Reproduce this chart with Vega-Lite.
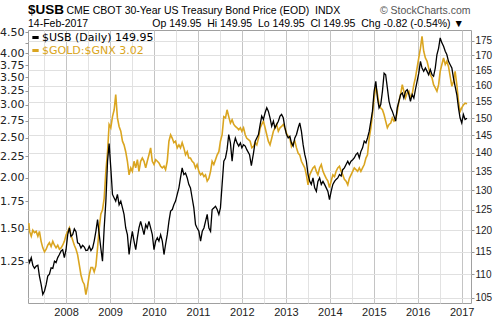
{
  "$schema": "https://vega.github.io/schema/vega-lite/v6.json",
  "width": 443,
  "height": 273,
  "autosize": {"type": "none"},
  "padding": {"left": 28, "top": 30, "right": 23, "bottom": 19},
  "background": "white",
  "config": {"view": {"stroke": "#a0a0a0", "strokeWidth": 1}, "font": "Liberation Sans"},
  "title": {
    "text": "$USB",
    "subtitle": "14-Feb-2017\u00a0\u00a0\u00a0\u00a0\u00a0\u00a0\u00a0\u00a0\u00a0\u00a0\u00a0\u00a0\u00a0\u00a0\u00a0\u00a0\u00a0\u00a0\u00a0\u00a0\u00a0\u00a0Op 149.95\u00a0\u00a0Hi 149.95\u00a0\u00a0Lo 149.95\u00a0\u00a0Cl 149.95\u00a0\u00a0Chg -0.82 (-0.54%) ▼",
    "anchor": "start",
    "frame": "group",
    "font": "Liberation Sans",
    "fontSize": 13.5,
    "fontWeight": "bold",
    "color": "#000000",
    "subtitleFont": "Liberation Sans",
    "subtitleFontSize": 10.5,
    "subtitleColor": "#000000",
    "subtitlePadding": 2,
    "offset": -24
  },
  "datasets": {
    "usb": [
      {"date": "2007-02-26", "price": 113.3}, {"date": "2007-03-04", "price": 112.6}, {"date": "2007-03-18", "price": 113.7}, {"date": "2007-03-31", "price": 112.0},
      {"date": "2007-04-14", "price": 111.3}, {"date": "2007-04-28", "price": 111.8}, {"date": "2007-05-12", "price": 112.0}, {"date": "2007-05-25", "price": 109.6},
      {"date": "2007-06-08", "price": 107.8}, {"date": "2007-06-22", "price": 105.7}, {"date": "2007-07-06", "price": 106.4}, {"date": "2007-07-20", "price": 107.8},
      {"date": "2007-08-02", "price": 109.6}, {"date": "2007-08-16", "price": 110.0}, {"date": "2007-08-30", "price": 111.4}, {"date": "2007-09-13", "price": 111.3},
      {"date": "2007-09-27", "price": 112.9}, {"date": "2007-10-10", "price": 112.6}, {"date": "2007-10-24", "price": 113.7}, {"date": "2007-11-07", "price": 114.4},
      {"date": "2007-11-21", "price": 115.2}, {"date": "2007-12-04", "price": 115.5}, {"date": "2007-12-18", "price": 113.7}, {"date": "2008-01-01", "price": 115.5},
      {"date": "2008-01-15", "price": 119.0}, {"date": "2008-01-29", "price": 120.6}, {"date": "2008-02-11", "price": 118.6}, {"date": "2008-02-25", "price": 119.0},
      {"date": "2008-03-10", "price": 120.4}, {"date": "2008-03-24", "price": 119.7}, {"date": "2008-04-06", "price": 117.1}, {"date": "2008-04-20", "price": 116.9},
      {"date": "2008-05-04", "price": 115.9}, {"date": "2008-05-18", "price": 116.5}, {"date": "2008-06-01", "price": 116.1}, {"date": "2008-06-14", "price": 115.3},
      {"date": "2008-06-28", "price": 115.4}, {"date": "2008-07-12", "price": 116.3}, {"date": "2008-07-26", "price": 115.3}, {"date": "2008-08-09", "price": 115.9},
      {"date": "2008-08-22", "price": 117.5}, {"date": "2008-09-05", "price": 119.8}, {"date": "2008-09-19", "price": 122.6}, {"date": "2008-10-03", "price": 119.0},
      {"date": "2008-10-16", "price": 115.9}, {"date": "2008-10-30", "price": 112.9}, {"date": "2008-11-13", "price": 120.6}, {"date": "2008-11-27", "price": 127.2},
      {"date": "2008-12-11", "price": 137.7}, {"date": "2008-12-24", "price": 142.6}, {"date": "2009-01-07", "price": 135.9}, {"date": "2009-01-21", "price": 128.9},
      {"date": "2009-02-04", "price": 128.0}, {"date": "2009-02-17", "price": 127.2}, {"date": "2009-03-03", "price": 128.9}, {"date": "2009-03-17", "price": 126.3},
      {"date": "2009-03-31", "price": 127.2}, {"date": "2009-04-14", "price": 125.5}, {"date": "2009-04-27", "price": 123.9}, {"date": "2009-05-11", "price": 120.6},
      {"date": "2009-05-25", "price": 119.0}, {"date": "2009-06-08", "price": 114.4}, {"date": "2009-06-22", "price": 117.5}, {"date": "2009-07-05", "price": 119.8},
      {"date": "2009-07-19", "price": 117.5}, {"date": "2009-08-02", "price": 115.5}, {"date": "2009-08-16", "price": 118.3}, {"date": "2009-08-29", "price": 120.6},
      {"date": "2009-09-12", "price": 122.2}, {"date": "2009-09-26", "price": 120.6}, {"date": "2009-10-10", "price": 119.0}, {"date": "2009-10-24", "price": 121.4},
      {"date": "2009-11-06", "price": 120.6}, {"date": "2009-11-20", "price": 122.2}, {"date": "2009-12-04", "price": 120.6}, {"date": "2009-12-18", "price": 119.0},
      {"date": "2010-01-01", "price": 115.5}, {"date": "2010-01-15", "price": 117.5}, {"date": "2010-01-29", "price": 118.3}, {"date": "2010-02-11", "price": 117.5},
      {"date": "2010-02-25", "price": 119.0}, {"date": "2010-03-11", "price": 117.5}, {"date": "2010-03-25", "price": 114.4}, {"date": "2010-04-07", "price": 116.7},
      {"date": "2010-04-21", "price": 119.0}, {"date": "2010-05-05", "price": 122.2}, {"date": "2010-05-19", "price": 124.7}, {"date": "2010-06-02", "price": 125.1},
      {"date": "2010-06-15", "price": 126.3}, {"date": "2010-06-29", "price": 127.2}, {"date": "2010-07-13", "price": 128.9}, {"date": "2010-07-27", "price": 130.6},
      {"date": "2010-08-09", "price": 133.2}, {"date": "2010-08-23", "price": 135.9}, {"date": "2010-09-06", "price": 134.1}, {"date": "2010-09-20", "price": 134.5},
      {"date": "2010-10-04", "price": 133.2}, {"date": "2010-10-17", "price": 131.5}, {"date": "2010-10-31", "price": 130.6}, {"date": "2010-11-14", "price": 128.0},
      {"date": "2010-11-28", "price": 125.5}, {"date": "2010-12-12", "price": 121.4}, {"date": "2010-12-25", "price": 120.6}, {"date": "2011-01-09", "price": 119.8},
      {"date": "2011-01-23", "price": 117.5}, {"date": "2011-02-06", "price": 119.8}, {"date": "2011-02-20", "price": 120.6}, {"date": "2011-03-05", "price": 122.2},
      {"date": "2011-03-19", "price": 123.9}, {"date": "2011-04-02", "price": 120.6}, {"date": "2011-04-16", "price": 119.8}, {"date": "2011-04-29", "price": 125.1},
      {"date": "2011-05-13", "price": 125.5}, {"date": "2011-05-27", "price": 125.9}, {"date": "2011-06-10", "price": 125.1}, {"date": "2011-06-24", "price": 123.9},
      {"date": "2011-07-07", "price": 125.5}, {"date": "2011-07-21", "price": 131.5}, {"date": "2011-08-04", "price": 137.7}, {"date": "2011-08-18", "price": 138.6},
      {"date": "2011-08-31", "price": 140.9}, {"date": "2011-09-14", "price": 145.2}, {"date": "2011-09-28", "price": 142.8}, {"date": "2011-10-12", "price": 137.7},
      {"date": "2011-10-26", "price": 142.3}, {"date": "2011-11-08", "price": 144.2}, {"date": "2011-11-22", "price": 142.8}, {"date": "2011-12-06", "price": 141.9},
      {"date": "2011-12-20", "price": 142.8}, {"date": "2012-01-01", "price": 141.4}, {"date": "2012-01-15", "price": 142.3}, {"date": "2012-01-29", "price": 141.9},
      {"date": "2012-02-11", "price": 140.9}, {"date": "2012-03-05", "price": 139.5}, {"date": "2012-03-20", "price": 136.5}, {"date": "2012-04-07", "price": 140.0},
      {"date": "2012-04-21", "price": 143.3}, {"date": "2012-05-04", "price": 144.2}, {"date": "2012-05-18", "price": 145.2}, {"date": "2012-06-01", "price": 148.1},
      {"date": "2012-06-14", "price": 150.6}, {"date": "2012-06-28", "price": 149.6}, {"date": "2012-07-12", "price": 151.6}, {"date": "2012-07-26", "price": 153.1},
      {"date": "2012-08-08", "price": 152.1}, {"date": "2012-08-22", "price": 150.1}, {"date": "2012-09-05", "price": 147.6}, {"date": "2012-09-19", "price": 149.1},
      {"date": "2012-10-02", "price": 147.1}, {"date": "2012-10-16", "price": 148.1}, {"date": "2012-10-30", "price": 149.1}, {"date": "2012-11-13", "price": 150.6},
      {"date": "2012-11-26", "price": 151.1}, {"date": "2012-12-10", "price": 150.1}, {"date": "2012-12-24", "price": 147.1}, {"date": "2013-01-06", "price": 145.2},
      {"date": "2013-01-20", "price": 144.2}, {"date": "2013-02-03", "price": 144.7}, {"date": "2013-02-16", "price": 142.8}, {"date": "2013-03-02", "price": 141.9},
      {"date": "2013-03-16", "price": 144.2}, {"date": "2013-03-30", "price": 145.2}, {"date": "2013-04-13", "price": 147.1}, {"date": "2013-04-26", "price": 148.6},
      {"date": "2013-05-10", "price": 146.1}, {"date": "2013-05-24", "price": 142.3}, {"date": "2013-06-07", "price": 139.5}, {"date": "2013-06-20", "price": 137.7},
      {"date": "2013-07-04", "price": 134.1}, {"date": "2013-07-18", "price": 132.3}, {"date": "2013-07-31", "price": 131.5}, {"date": "2013-08-14", "price": 133.2},
      {"date": "2013-08-28", "price": 130.6}, {"date": "2013-09-11", "price": 129.7}, {"date": "2013-09-24", "price": 132.3}, {"date": "2013-10-08", "price": 133.2},
      {"date": "2013-10-22", "price": 131.5}, {"date": "2013-11-05", "price": 132.3}, {"date": "2013-11-18", "price": 131.5}, {"date": "2013-12-02", "price": 130.6},
      {"date": "2013-12-16", "price": 129.7}, {"date": "2013-12-29", "price": 127.6}, {"date": "2014-01-12", "price": 129.7}, {"date": "2014-01-26", "price": 131.5},
      {"date": "2014-02-09", "price": 132.3}, {"date": "2014-02-22", "price": 132.8}, {"date": "2014-03-08", "price": 133.2}, {"date": "2014-03-22", "price": 134.1},
      {"date": "2014-04-05", "price": 133.7}, {"date": "2014-04-18", "price": 135.4}, {"date": "2014-05-02", "price": 135.9}, {"date": "2014-05-16", "price": 136.8},
      {"date": "2014-05-30", "price": 137.7}, {"date": "2014-06-12", "price": 136.8}, {"date": "2014-06-26", "price": 137.7}, {"date": "2014-07-10", "price": 138.1},
      {"date": "2014-07-23", "price": 138.6}, {"date": "2014-08-06", "price": 139.5}, {"date": "2014-08-20", "price": 140.0}, {"date": "2014-09-03", "price": 138.6},
      {"date": "2014-09-16", "price": 140.4}, {"date": "2014-09-30", "price": 141.4}, {"date": "2014-10-14", "price": 143.3}, {"date": "2014-10-28", "price": 142.8},
      {"date": "2014-11-10", "price": 144.2}, {"date": "2014-11-24", "price": 146.1}, {"date": "2014-12-08", "price": 149.1}, {"date": "2014-12-21", "price": 152.1},
      {"date": "2015-01-04", "price": 158.2}, {"date": "2015-01-18", "price": 161.4}, {"date": "2015-02-01", "price": 156.1}, {"date": "2015-02-14", "price": 153.1},
      {"date": "2015-02-28", "price": 154.1}, {"date": "2015-03-14", "price": 158.2}, {"date": "2015-03-28", "price": 164.0}, {"date": "2015-04-10", "price": 163.5},
      {"date": "2015-04-24", "price": 159.3}, {"date": "2015-05-08", "price": 155.1}, {"date": "2015-05-22", "price": 153.1}, {"date": "2015-06-04", "price": 152.1},
      {"date": "2015-06-18", "price": 150.6}, {"date": "2015-07-02", "price": 149.1}, {"date": "2015-07-15", "price": 153.1}, {"date": "2015-07-29", "price": 155.1},
      {"date": "2015-08-12", "price": 157.2}, {"date": "2015-08-26", "price": 157.7}, {"date": "2015-09-08", "price": 156.1}, {"date": "2015-09-22", "price": 158.2},
      {"date": "2015-10-06", "price": 158.7}, {"date": "2015-10-20", "price": 157.2}, {"date": "2015-11-02", "price": 155.1}, {"date": "2015-11-16", "price": 157.2},
      {"date": "2015-11-30", "price": 156.1}, {"date": "2015-12-13", "price": 158.7}, {"date": "2015-12-27", "price": 161.4}, {"date": "2016-01-10", "price": 164.0},
      {"date": "2016-01-24", "price": 167.9}, {"date": "2016-02-06", "price": 165.7}, {"date": "2016-02-20", "price": 164.6}, {"date": "2016-03-05", "price": 165.7},
      {"date": "2016-03-19", "price": 164.6}, {"date": "2016-04-01", "price": 163.5}, {"date": "2016-04-15", "price": 165.2}, {"date": "2016-04-29", "price": 163.5},
      {"date": "2016-05-12", "price": 163.0}, {"date": "2016-05-26", "price": 165.7}, {"date": "2016-06-09", "price": 170.2}, {"date": "2016-06-23", "price": 172.4},
      {"date": "2016-07-06", "price": 175.9}, {"date": "2016-07-20", "price": 174.2}, {"date": "2016-08-03", "price": 173.0}, {"date": "2016-08-17", "price": 171.3},
      {"date": "2016-08-30", "price": 170.2}, {"date": "2016-09-13", "price": 167.9}, {"date": "2016-09-27", "price": 166.8}, {"date": "2016-10-11", "price": 165.7},
      {"date": "2016-10-24", "price": 162.5}, {"date": "2016-11-07", "price": 159.8}, {"date": "2016-11-21", "price": 157.2}, {"date": "2016-12-05", "price": 153.1},
      {"date": "2016-12-18", "price": 150.1}, {"date": "2017-01-01", "price": 148.6}, {"date": "2017-01-15", "price": 151.1}, {"date": "2017-01-29", "price": 149.6},
      {"date": "2017-02-14", "price": 149.95}
    ],
    "gold": [
      {"date": "2007-02-26", "price": 1.55}, {"date": "2007-03-04", "price": 1.48}, {"date": "2007-03-18", "price": 1.44}, {"date": "2007-03-31", "price": 1.49},
      {"date": "2007-04-14", "price": 1.47}, {"date": "2007-04-28", "price": 1.48}, {"date": "2007-05-12", "price": 1.44}, {"date": "2007-05-25", "price": 1.48},
      {"date": "2007-06-08", "price": 1.40}, {"date": "2007-06-22", "price": 1.35}, {"date": "2007-07-06", "price": 1.32}, {"date": "2007-07-20", "price": 1.34},
      {"date": "2007-08-02", "price": 1.37}, {"date": "2007-08-16", "price": 1.39}, {"date": "2007-08-30", "price": 1.36}, {"date": "2007-09-13", "price": 1.40},
      {"date": "2007-09-27", "price": 1.37}, {"date": "2007-10-10", "price": 1.35}, {"date": "2007-10-24", "price": 1.37}, {"date": "2007-11-07", "price": 1.34},
      {"date": "2007-11-21", "price": 1.35}, {"date": "2007-12-04", "price": 1.37}, {"date": "2007-12-18", "price": 1.40}, {"date": "2008-01-01", "price": 1.45},
      {"date": "2008-01-15", "price": 1.48}, {"date": "2008-01-29", "price": 1.51}, {"date": "2008-02-11", "price": 1.45}, {"date": "2008-02-25", "price": 1.41},
      {"date": "2008-03-10", "price": 1.37}, {"date": "2008-03-24", "price": 1.34}, {"date": "2008-04-06", "price": 1.30}, {"date": "2008-04-20", "price": 1.23},
      {"date": "2008-05-04", "price": 1.16}, {"date": "2008-05-18", "price": 1.12}, {"date": "2008-06-01", "price": 1.10}, {"date": "2008-06-14", "price": 1.04},
      {"date": "2008-06-28", "price": 1.09}, {"date": "2008-07-12", "price": 1.16}, {"date": "2008-07-26", "price": 1.21}, {"date": "2008-08-09", "price": 1.21},
      {"date": "2008-08-22", "price": 1.18}, {"date": "2008-09-05", "price": 1.22}, {"date": "2008-09-19", "price": 1.35}, {"date": "2008-10-03", "price": 1.51},
      {"date": "2008-10-16", "price": 1.63}, {"date": "2008-10-30", "price": 1.67}, {"date": "2008-11-13", "price": 1.78}, {"date": "2008-11-27", "price": 2.07},
      {"date": "2008-12-11", "price": 2.31}, {"date": "2008-12-24", "price": 2.69}, {"date": "2009-01-07", "price": 2.64}, {"date": "2009-01-21", "price": 2.81},
      {"date": "2009-02-04", "price": 2.92}, {"date": "2009-02-17", "price": 3.18}, {"date": "2009-03-03", "price": 2.79}, {"date": "2009-03-17", "price": 2.66},
      {"date": "2009-03-31", "price": 2.59}, {"date": "2009-04-14", "price": 2.45}, {"date": "2009-04-27", "price": 2.40}, {"date": "2009-05-11", "price": 2.31},
      {"date": "2009-05-25", "price": 2.19}, {"date": "2009-06-08", "price": 2.03}, {"date": "2009-06-22", "price": 2.11}, {"date": "2009-07-05", "price": 2.07},
      {"date": "2009-07-19", "price": 2.19}, {"date": "2009-08-02", "price": 2.11}, {"date": "2009-08-16", "price": 2.21}, {"date": "2009-08-29", "price": 2.07},
      {"date": "2009-09-12", "price": 2.19}, {"date": "2009-09-26", "price": 2.23}, {"date": "2009-10-10", "price": 2.19}, {"date": "2009-10-24", "price": 2.11},
      {"date": "2009-11-06", "price": 2.19}, {"date": "2009-11-20", "price": 2.27}, {"date": "2009-12-04", "price": 2.36}, {"date": "2009-12-18", "price": 2.19},
      {"date": "2010-01-01", "price": 2.15}, {"date": "2010-01-15", "price": 2.21}, {"date": "2010-01-29", "price": 2.19}, {"date": "2010-02-11", "price": 2.17},
      {"date": "2010-02-25", "price": 2.13}, {"date": "2010-03-11", "price": 2.11}, {"date": "2010-03-25", "price": 2.13}, {"date": "2010-04-07", "price": 2.09},
      {"date": "2010-04-21", "price": 2.19}, {"date": "2010-05-05", "price": 2.45}, {"date": "2010-05-19", "price": 2.54}, {"date": "2010-06-02", "price": 2.49},
      {"date": "2010-06-15", "price": 2.43}, {"date": "2010-06-29", "price": 2.45}, {"date": "2010-07-13", "price": 2.36}, {"date": "2010-07-27", "price": 2.40},
      {"date": "2010-08-09", "price": 2.36}, {"date": "2010-08-23", "price": 2.43}, {"date": "2010-09-06", "price": 2.36}, {"date": "2010-09-20", "price": 2.27},
      {"date": "2010-10-04", "price": 2.31}, {"date": "2010-10-17", "price": 2.23}, {"date": "2010-10-31", "price": 2.23}, {"date": "2010-11-14", "price": 2.19},
      {"date": "2010-11-28", "price": 2.17}, {"date": "2010-12-12", "price": 2.11}, {"date": "2010-12-25", "price": 2.15}, {"date": "2011-01-09", "price": 2.07},
      {"date": "2011-01-23", "price": 2.03}, {"date": "2011-02-06", "price": 2.05}, {"date": "2011-02-20", "price": 2.01}, {"date": "2011-03-05", "price": 2.03},
      {"date": "2011-03-19", "price": 1.96}, {"date": "2011-04-02", "price": 1.99}, {"date": "2011-04-16", "price": 2.07}, {"date": "2011-04-29", "price": 2.19},
      {"date": "2011-05-13", "price": 2.15}, {"date": "2011-05-27", "price": 2.21}, {"date": "2011-06-10", "price": 2.27}, {"date": "2011-06-24", "price": 2.31},
      {"date": "2011-07-07", "price": 2.45}, {"date": "2011-07-21", "price": 2.54}, {"date": "2011-08-04", "price": 2.81}, {"date": "2011-08-18", "price": 2.79},
      {"date": "2011-08-31", "price": 2.92}, {"date": "2011-09-14", "price": 2.81}, {"date": "2011-09-28", "price": 2.71}, {"date": "2011-10-12", "price": 2.76},
      {"date": "2011-10-26", "price": 2.69}, {"date": "2011-11-08", "price": 2.66}, {"date": "2011-11-22", "price": 2.64}, {"date": "2011-12-06", "price": 2.61},
      {"date": "2011-12-20", "price": 2.64}, {"date": "2012-01-01", "price": 2.59}, {"date": "2012-01-15", "price": 2.64}, {"date": "2012-01-29", "price": 2.54},
      {"date": "2012-02-11", "price": 2.49}, {"date": "2012-02-25", "price": 2.47}, {"date": "2012-03-10", "price": 2.45}, {"date": "2012-03-24", "price": 2.36},
      {"date": "2012-04-07", "price": 2.38}, {"date": "2012-04-21", "price": 2.43}, {"date": "2012-05-04", "price": 2.40}, {"date": "2012-05-18", "price": 2.49},
      {"date": "2012-06-01", "price": 2.64}, {"date": "2012-06-14", "price": 2.69}, {"date": "2012-06-28", "price": 2.74}, {"date": "2012-07-12", "price": 2.64},
      {"date": "2012-07-26", "price": 2.54}, {"date": "2012-08-08", "price": 2.45}, {"date": "2012-08-22", "price": 2.40}, {"date": "2012-09-05", "price": 2.49},
      {"date": "2012-09-19", "price": 2.59}, {"date": "2012-10-02", "price": 2.64}, {"date": "2012-10-16", "price": 2.69}, {"date": "2012-10-30", "price": 2.59},
      {"date": "2012-11-13", "price": 2.64}, {"date": "2012-11-26", "price": 2.66}, {"date": "2012-12-10", "price": 2.69}, {"date": "2012-12-24", "price": 2.64},
      {"date": "2013-01-06", "price": 2.56}, {"date": "2013-01-20", "price": 2.52}, {"date": "2013-02-03", "price": 2.49}, {"date": "2013-02-16", "price": 2.38},
      {"date": "2013-03-02", "price": 2.43}, {"date": "2013-03-16", "price": 2.45}, {"date": "2013-03-30", "price": 2.36}, {"date": "2013-04-13", "price": 2.29},
      {"date": "2013-04-26", "price": 2.27}, {"date": "2013-05-10", "price": 2.19}, {"date": "2013-05-24", "price": 2.15}, {"date": "2013-06-07", "price": 2.11},
      {"date": "2013-06-20", "price": 2.03}, {"date": "2013-07-04", "price": 1.92}, {"date": "2013-07-18", "price": 2.03}, {"date": "2013-07-31", "price": 2.07},
      {"date": "2013-08-14", "price": 2.11}, {"date": "2013-08-28", "price": 2.13}, {"date": "2013-09-11", "price": 2.07}, {"date": "2013-09-24", "price": 2.03},
      {"date": "2013-10-08", "price": 2.11}, {"date": "2013-10-22", "price": 2.15}, {"date": "2013-11-05", "price": 2.07}, {"date": "2013-11-18", "price": 2.03},
      {"date": "2013-12-02", "price": 1.99}, {"date": "2013-12-16", "price": 1.96}, {"date": "2013-12-29", "price": 1.89}, {"date": "2014-01-12", "price": 1.96},
      {"date": "2014-01-26", "price": 2.03}, {"date": "2014-02-09", "price": 2.01}, {"date": "2014-02-22", "price": 2.07}, {"date": "2014-03-08", "price": 2.11},
      {"date": "2014-03-22", "price": 2.13}, {"date": "2014-04-05", "price": 2.07}, {"date": "2014-04-18", "price": 2.03}, {"date": "2014-05-02", "price": 1.98},
      {"date": "2014-05-16", "price": 1.96}, {"date": "2014-05-30", "price": 1.92}, {"date": "2014-06-12", "price": 1.99}, {"date": "2014-06-26", "price": 2.03},
      {"date": "2014-07-10", "price": 2.07}, {"date": "2014-07-23", "price": 2.11}, {"date": "2014-08-06", "price": 2.09}, {"date": "2014-08-20", "price": 2.07},
      {"date": "2014-09-03", "price": 2.11}, {"date": "2014-09-16", "price": 2.07}, {"date": "2014-09-30", "price": 2.11}, {"date": "2014-10-14", "price": 2.15},
      {"date": "2014-10-28", "price": 2.23}, {"date": "2014-11-10", "price": 2.27}, {"date": "2014-11-24", "price": 2.49}, {"date": "2014-12-08", "price": 2.64},
      {"date": "2014-12-21", "price": 2.84}, {"date": "2015-01-04", "price": 3.12}, {"date": "2015-01-18", "price": 3.33}, {"date": "2015-02-01", "price": 3.18},
      {"date": "2015-02-14", "price": 3.00}, {"date": "2015-02-28", "price": 2.95}, {"date": "2015-03-14", "price": 2.92}, {"date": "2015-03-28", "price": 2.84},
      {"date": "2015-04-10", "price": 2.74}, {"date": "2015-04-24", "price": 2.64}, {"date": "2015-05-08", "price": 2.69}, {"date": "2015-05-22", "price": 2.71},
      {"date": "2015-06-04", "price": 2.79}, {"date": "2015-06-18", "price": 2.74}, {"date": "2015-07-02", "price": 2.76}, {"date": "2015-07-15", "price": 2.89},
      {"date": "2015-07-29", "price": 3.06}, {"date": "2015-08-12", "price": 3.18}, {"date": "2015-08-26", "price": 3.36}, {"date": "2015-09-08", "price": 3.24},
      {"date": "2015-09-22", "price": 3.12}, {"date": "2015-10-06", "price": 3.21}, {"date": "2015-10-20", "price": 3.24}, {"date": "2015-11-02", "price": 3.12},
      {"date": "2015-11-16", "price": 3.18}, {"date": "2015-11-30", "price": 3.36}, {"date": "2015-12-13", "price": 3.49}, {"date": "2015-12-27", "price": 3.69},
      {"date": "2016-01-10", "price": 3.90}, {"date": "2016-01-24", "price": 4.12}, {"date": "2016-02-06", "price": 4.40}, {"date": "2016-02-20", "price": 4.05},
      {"date": "2016-03-05", "price": 3.90}, {"date": "2016-03-19", "price": 3.83}, {"date": "2016-04-01", "price": 3.69}, {"date": "2016-04-15", "price": 3.55},
      {"date": "2016-04-29", "price": 3.49}, {"date": "2016-05-12", "price": 3.36}, {"date": "2016-05-26", "price": 3.30}, {"date": "2016-06-09", "price": 3.24},
      {"date": "2016-06-23", "price": 3.36}, {"date": "2016-07-06", "price": 3.62}, {"date": "2016-07-20", "price": 3.76}, {"date": "2016-08-03", "price": 3.90},
      {"date": "2016-08-17", "price": 3.76}, {"date": "2016-08-30", "price": 3.83}, {"date": "2016-09-13", "price": 3.72}, {"date": "2016-09-27", "price": 3.52},
      {"date": "2016-10-11", "price": 3.33}, {"date": "2016-10-24", "price": 3.42}, {"date": "2016-11-07", "price": 3.62}, {"date": "2016-11-21", "price": 3.36},
      {"date": "2016-12-05", "price": 3.06}, {"date": "2016-12-18", "price": 2.89}, {"date": "2017-01-01", "price": 2.95}, {"date": "2017-01-15", "price": 3.00},
      {"date": "2017-01-29", "price": 3.03}, {"date": "2017-02-14", "price": 3.02}
    ]
  },
  "layer": [
    {
      "data": {"name": "gold"},
      "mark": {"type": "line", "strokeWidth": 1.6},
      "encoding": {
        "x": {
          "field": "date",
          "type": "temporal",
          "scale": {"domain": [{"year": 2007, "month": 2, "date": 19}, {"year": 2017, "month": 3, "date": 19}]},
          "axis": {
            "orient": "bottom",
            "title": null,
            "values": [
              {"year": 2007, "month": 7, "date": 1}, {"year": 2008, "month": 1, "date": 1}, {"year": 2008, "month": 7, "date": 1},
              {"year": 2009, "month": 1, "date": 1}, {"year": 2009, "month": 7, "date": 1}, {"year": 2010, "month": 1, "date": 1},
              {"year": 2010, "month": 7, "date": 1}, {"year": 2011, "month": 1, "date": 1}, {"year": 2011, "month": 7, "date": 1},
              {"year": 2012, "month": 1, "date": 1}, {"year": 2012, "month": 7, "date": 1}, {"year": 2013, "month": 1, "date": 1},
              {"year": 2013, "month": 7, "date": 1}, {"year": 2014, "month": 1, "date": 1}, {"year": 2014, "month": 7, "date": 1},
              {"year": 2015, "month": 1, "date": 1}, {"year": 2015, "month": 7, "date": 1}, {"year": 2016, "month": 1, "date": 1},
              {"year": 2016, "month": 7, "date": 1}, {"year": 2017, "month": 1, "date": 1}
            ],
            "labelExpr": "month(datum.value) == 0 ? timeFormat(datum.value, '%Y') : ''",
            "grid": true,
            "gridColor": {"condition": {"test": "month(datum.value) == 0", "value": "#c4c4c4"}, "value": "#e2e2e2"},
            "ticks": false,
            "domain": false,
            "labelFont": "Liberation Sans",
            "labelFontSize": 11,
            "labelColor": "#222222",
            "labelPadding": 3,
            "labelFlush": false,
            "labelOverlap": false
          }
        },
        "y": {
          "field": "price",
          "type": "quantitative",
          "scale": {"type": "log", "domain": [0.992, 4.56]},
          "axis": {
            "orient": "left",
            "title": null,
            "values": [1.25, 1.5, 1.75, 2, 2.25, 2.5, 2.75, 3, 3.25, 3.5, 3.75, 4, 4.25, 4.5],
            "format": ".2f",
            "grid": false,
            "domain": false,
            "tickSize": 3,
            "tickColor": "#999999",
            "labelPadding": 1,
            "labelFont": "DejaVu Sans",
            "labelFontSize": 11,
            "labelColor": "#222222"
          }
        },
        "color": {
          "datum": "$GOLD:$GNX",
          "scale": {"domain": ["$USB", "$GOLD:$GNX"], "range": ["#000000", "#DAA520"]},
          "legend": {
            "title": null,
            "orient": "top-left",
            "offset": 2,
            "padding": 0,
            "symbolType": "stroke",
            "symbolStrokeWidth": 3,
            "symbolSize": 40,
            "labelFont": "DejaVu Sans",
            "labelFontSize": 11,
            "labelOffset": 1,
            "rowPadding": 0,
            "labelExpr": "datum.label == '$USB' ? '$USB (Daily) 149.95' : '$GOLD:$GNX 3.02'",
            "encode": {"labels": {"update": {"fill": {"signal": "datum.label == '$USB' ? '#000000' : '#DAA520'"}}}}
          }
        }
      }
    },
    {
      "data": {"name": "usb"},
      "mark": {"type": "line", "strokeWidth": 1.3},
      "encoding": {
        "x": {
          "field": "date",
          "type": "temporal",
          "axis": {
            "orient": "top",
            "labels": false,
            "ticks": false,
            "domain": false,
            "grid": false,
            "title": "CME CBOT 30-Year US Treasury Bond Price (EOD)\u00a0\u00a0INDX",
            "titleFont": "Liberation Sans",
            "titleFontSize": 10.5,
            "titleFontWeight": "normal",
            "titleColor": "#000000",
            "titleAnchor": "start",
            "titleAlign": "left",
            "titleBaseline": "alphabetic",
            "titleX": 38,
            "titleY": -16.7
          }
        },
        "y": {
          "field": "price",
          "type": "quantitative",
          "scale": {"type": "log", "domain": [103.9, 178.7]},
          "axis": {
            "orient": "right",
            "values": [105, 110, 115, 120, 125, 130, 135, 140, 145, 150, 155, 160, 165, 170, 175],
            "format": "d",
            "grid": true,
            "gridColor": "#e0e0e0",
            "domain": false,
            "tickSize": 3,
            "tickColor": "#999999",
            "labelPadding": 1,
            "labelFont": "Liberation Sans",
            "labelFontSize": 10,
            "labelColor": "#222222",
            "title": "© StockCharts.com",
            "titleAngle": 0,
            "titleFont": "Liberation Sans",
            "titleFontSize": 10.5,
            "titleFontWeight": "normal",
            "titleColor": "#555555",
            "titleAnchor": "start",
            "titleAlign": "right",
            "titleBaseline": "alphabetic",
            "titleX": -1,
            "titleY": -17
          }
        },
        "color": {"datum": "$USB"}
      }
    }
  ],
  "resolve": {"scale": {"y": "independent"}, "axis": {"x": "independent"}}
}
